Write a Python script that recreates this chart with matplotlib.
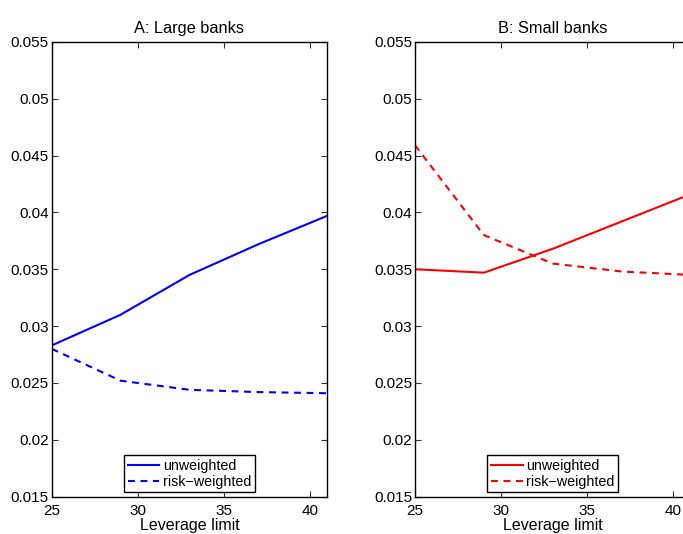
import matplotlib
matplotlib.use("Agg")
import matplotlib.pyplot as plt

plt.rcParams['font.family'] = ['Liberation Sans', 'DejaVu Sans']

leverage = [25, 29, 33, 37, 41]
large_unweighted = [0.0283, 0.0310, 0.0345, 0.0372, 0.0397]
large_risk = [0.0280, 0.0252, 0.0244, 0.0242, 0.0241]
small_unweighted = [0.0350, 0.0347, 0.0368, 0.0392, 0.0416]
small_risk = [0.0459, 0.0380, 0.0355, 0.0348, 0.0345]

yticks = [0.015, 0.02, 0.025, 0.03, 0.035, 0.04, 0.045, 0.05, 0.055]
ytick_labels = ['0.015', '0.02', '0.025', '0.03', '0.035', '0.04', '0.045', '0.05', '0.055']
xticks = [25, 30, 35, 40]

panels = [
    ("A: Large banks", large_unweighted, large_risk, (0, 0, 1)),
    ("B: Small banks", small_unweighted, small_risk, (1, 0, 0)),
]

fig = plt.figure(figsize=(6.83, 5.34), dpi=100)
lefts = [0.0757, 0.6076]
for (title, unw, rw, col), left in zip(panels, lefts):
    ax = fig.add_axes([left, 0.0698, 0.4035, 0.852])
    ax.plot(leverage, unw, color=col, lw=1.5, label='unweighted')
    ax.plot(leverage, rw, color=col, lw=1.5, ls=(0, (3.3, 2.7)), label='risk\u2212weighted')
    ax.set_xlim(25, 41)
    ax.set_ylim(0.015, 0.055)
    ax.set_xticks(xticks)
    ax.set_yticks(yticks)
    ax.set_yticklabels(ytick_labels)
    ax.tick_params(direction='in', length=4, width=0.8, top=True, right=True,
                   labelsize=11, color='#333333')
    ax.tick_params(axis='y', pad=2)
    ax.tick_params(axis='x', pad=5)
    for s in ax.spines.values():
        s.set_linewidth(1.0)
    ax.set_title(title, fontsize=11.8, pad=6)
    ax.set_xlabel('Leverage limit', fontsize=11.5, labelpad=0)
    leg = ax.legend(loc='lower center', fontsize=10.3, frameon=True, fancybox=False,
                    edgecolor='black', framealpha=1, handlelength=2.2,
                    handletextpad=0.25, labelspacing=0.15, borderpad=0.25,
                    borderaxespad=0.3)
    leg.get_frame().set_linewidth(1.0)

fig.savefig('out.png', dpi=100)
